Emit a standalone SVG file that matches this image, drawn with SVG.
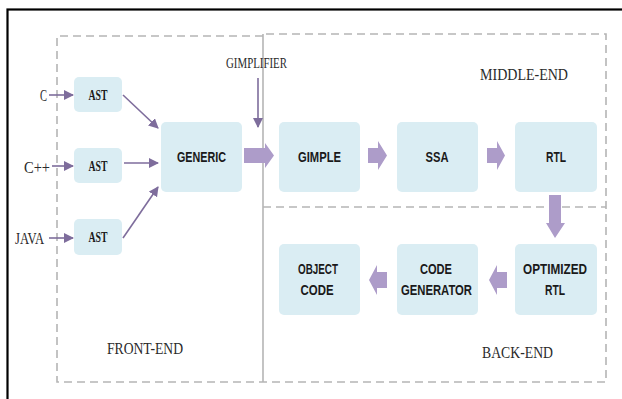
<svg xmlns="http://www.w3.org/2000/svg" width="622" height="399" viewBox="0 0 622 399">
<defs>
<style>
.node rect{fill:#daedf3;}
.nt{font-family:"Liberation Sans",Arial,sans-serif;font-weight:bold;font-size:15px;fill:#1a1a1a;text-anchor:middle;}
.ast{font-family:"Liberation Serif","Times New Roman",serif;font-weight:bold;font-size:15px;fill:#1a1a1a;text-anchor:middle;}
.lbl{font-family:"Liberation Serif","Times New Roman",serif;font-size:16px;fill:#2a2a2a;}
.dash{fill:none;stroke:#b5b5b5;stroke-width:1.6;stroke-dasharray:8 5;}
.thin{stroke:#7e6d9c;stroke-width:1.6;fill:none;marker-end:url(#ah);}
.blk{fill:#ad9cc9;}
</style>
<marker id="ah" markerWidth="10" markerHeight="10" refX="9" refY="5" orient="auto" markerUnits="userSpaceOnUse">
<path d="M0,0 L10,5 L0,10 Z" fill="#7e6d9c"/>
</marker>
</defs>
<rect x="0" y="0" width="622" height="399" fill="#ffffff"/>
<rect x="7.5" y="9.5" width="700" height="500" fill="none" stroke="#000" stroke-width="2.2"/>

<g id="regions">
<path class="dash" d="M263,36 H57 V382 H606 V34 H263"/>
<path class="dash" d="M263,207 H606"/>
<line x1="263" y1="34" x2="263" y2="382" stroke="#b5b5b5" stroke-width="1.6"/>
<text class="lbl" x="226" y="68" textLength="61" lengthAdjust="spacingAndGlyphs" style="font-size:14px">GIMPLIFIER</text>
<text class="lbl" x="480" y="80" textLength="88" lengthAdjust="spacingAndGlyphs">MIDDLE-END</text>
<text class="lbl" x="107" y="354" textLength="76" lengthAdjust="spacingAndGlyphs">FRONT-END</text>
<text class="lbl" x="482" y="358" textLength="71" lengthAdjust="spacingAndGlyphs">BACK-END</text>
<text class="lbl" x="40" y="101" textLength="7" lengthAdjust="spacingAndGlyphs">C</text>
<text class="lbl" x="24" y="173" textLength="26" lengthAdjust="spacingAndGlyphs">C++</text>
<text class="lbl" x="15" y="244" textLength="29" lengthAdjust="spacingAndGlyphs">JAVA</text>
</g>

<g id="ast1" class="node"><rect x="74" y="77" width="48" height="35" rx="5"/><text class="ast" x="98" y="100" textLength="19" lengthAdjust="spacingAndGlyphs">AST</text></g>
<g id="ast2" class="node"><rect x="74" y="148" width="48" height="35" rx="5"/><text class="ast" x="98" y="171" textLength="19" lengthAdjust="spacingAndGlyphs">AST</text></g>
<g id="ast3" class="node"><rect x="74" y="219" width="48" height="36" rx="5"/><text class="ast" x="98" y="242" textLength="19" lengthAdjust="spacingAndGlyphs">AST</text></g>
<g id="generic" class="node"><rect x="161" y="122" width="81" height="70" rx="5"/><text class="nt" x="201.5" y="161.5" textLength="49" lengthAdjust="spacingAndGlyphs">GENERIC</text></g>
<g id="gimple" class="node"><rect x="279" y="122" width="81" height="70" rx="5"/><text class="nt" x="319.5" y="161.5" textLength="43" lengthAdjust="spacingAndGlyphs">GIMPLE</text></g>
<g id="ssa" class="node"><rect x="397" y="122" width="81" height="70" rx="5"/><text class="nt" x="437" y="161.5" textLength="23" lengthAdjust="spacingAndGlyphs">SSA</text></g>
<g id="rtl" class="node"><rect x="515" y="122" width="82" height="70" rx="5"/><text class="nt" x="556" y="161.5" textLength="20" lengthAdjust="spacingAndGlyphs">RTL</text></g>
<g id="optrtl" class="node"><rect x="515" y="244" width="82" height="71" rx="5"/><text class="nt" x="555" y="273.5" textLength="64" lengthAdjust="spacingAndGlyphs">OPTIMIZED</text><text class="nt" x="555" y="294.5" textLength="20" lengthAdjust="spacingAndGlyphs">RTL</text></g>
<g id="codegen" class="node"><rect x="397" y="244" width="81" height="71" rx="5"/><text class="nt" x="436" y="273.5" textLength="32" lengthAdjust="spacingAndGlyphs">CODE</text><text class="nt" x="436.5" y="294.5" textLength="71" lengthAdjust="spacingAndGlyphs">GENERATOR</text></g>
<g id="objcode" class="node"><rect x="279" y="244" width="81" height="71" rx="5"/><text class="nt" x="318" y="273.5" textLength="40" lengthAdjust="spacingAndGlyphs">OBJECT</text><text class="nt" x="317" y="294.5" textLength="33" lengthAdjust="spacingAndGlyphs">CODE</text></g>

<g id="connectors">
<line class="thin" x1="49" y1="95" x2="73" y2="95"/>
<line class="thin" x1="52" y1="166" x2="73" y2="166"/>
<line class="thin" x1="49" y1="238" x2="73" y2="238"/>
<line class="thin" x1="123" y1="95" x2="158" y2="128"/>
<line class="thin" x1="124" y1="163" x2="158" y2="163"/>
<line class="thin" x1="123" y1="238" x2="158" y2="187"/>
<line class="thin" x1="258" y1="78" x2="258" y2="127"/>
<path class="blk" d="M244,148 H265 V143 L274,155.5 L265,168 V163 H244 Z"/>
<path class="blk" d="M368,148 H378 V141 L387,155.5 L378,170 V163 H368 Z"/>
<path class="blk" d="M487,148 H497 V141 L505,155.5 L497,170 V163 H487 Z"/>
<path class="blk" d="M549,195 H561 V223 H565 L555,238 L546,223 H549 Z"/>
<path class="blk" d="M507,272 H497 V265 L489,280 L497,295 V288 H507 Z"/>
<path class="blk" d="M387,272 H377 V265 L369,280 L377,295 V288 H387 Z"/>
</g>
</svg>
